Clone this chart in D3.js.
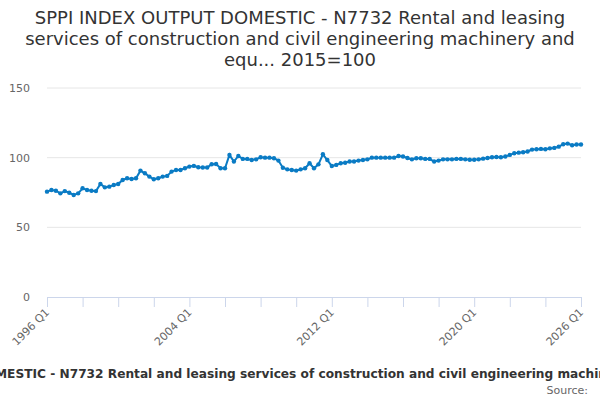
<!DOCTYPE html>
<html>
<head>
<meta charset="utf-8">
<script src="https://cdn.jsdelivr.net/npm/d3@7"></script>
<style>
  html, body { margin: 0; padding: 0; background: #fff; }
  svg { display: block; font-family: "DejaVu Sans", sans-serif; }
</style>
</head>
<body>
<div id="chart"></div>
<script>
// Quarterly index values, 1996 Q1 onwards
const startYear = 1996;
const values = [
  75.6, 76.8, 76.3, 74.4, 76.0, 74.8, 73.2, 74.4, 78.0, 76.8,
  76.3, 76.0, 81.1, 78.7, 79.2, 80.4, 81.1, 84.0, 85.2, 84.7,
  85.2, 90.7, 88.8, 86.4, 84.5, 85.2, 86.4, 86.9, 90.0, 91.2,
  91.2, 92.4, 93.6, 94.1, 93.1, 92.9, 92.9, 95.3, 95.5, 92.4,
  92.4, 102.0, 97.2, 101.2, 99.1, 99.1, 98.3, 98.8, 100.3, 100.0,
  100.0, 99.6, 97.9, 92.8, 91.6, 91.2, 90.7, 91.6, 92.4, 96.0,
  92.4, 95.2, 102.4, 98.3, 94.0, 94.8, 96.0, 96.4, 97.2, 97.2,
  97.9, 98.3, 98.8, 100.0, 100.0, 100.0, 100.0, 100.0, 100.0, 101.2,
  100.8, 99.8, 98.8, 99.6, 99.6, 99.1, 99.1, 97.2, 97.9, 98.8,
  98.8, 98.8, 99.1, 99.1, 98.8, 98.5, 98.5, 98.8, 99.3, 99.8,
  100.3, 100.5, 100.3, 100.8, 102.0, 103.2, 103.6, 103.9, 104.4, 105.8,
  106.0, 106.3, 106.0, 106.7, 107.0, 107.9, 109.6, 110.1, 108.9, 109.4,
  109.4
];
const yTicks = [0, 50, 100, 150];
const xTickYears = d3.range(1996, 2027, 2);
const xLabelYears = [1996, 2004, 2012, 2020, 2026];
const titleLines = [
  "SPPI INDEX OUTPUT DOMESTIC - N7732 Rental and leasing",
  "services of construction and civil engineering machinery and",
  "equ... 2015=100"
];
const footerText = "SPPI INDEX OUTPUT DOMESTIC - N7732 Rental and leasing services of construction and civil engineering machinery and equ... 2015=100";

const width = 600, height = 400;
const margin = { top: 88, right: 19, bottom: 103, left: 47 };

const data = values.map((v, i) => ({ t: startYear + i / 4, v: v }));

const svg = d3.select("#chart").append("svg")
  .attr("width", width)
  .attr("height", height);

const x = d3.scaleLinear()
  .domain([1996, 2026])
  .range([margin.left, width - margin.right]);

const y = d3.scaleLinear()
  .domain([0, 150])
  .range([height - margin.bottom, margin.top]);

// Title
svg.append("text")
  .attr("text-anchor", "middle")
  .attr("fill", "#333333")
  .style("font-size", "18px")
  .selectAll("tspan")
  .data(titleLines)
  .enter().append("tspan")
  .attr("x", width / 2)
  .attr("y", (d, i) => 24 + i * 21)
  .text(d => d);

// Gridlines
svg.append("g")
  .selectAll("line")
  .data(yTicks.filter(d => d > 0))
  .enter().append("line")
  .attr("x1", margin.left)
  .attr("x2", width - margin.right)
  .attr("y1", d => y(d))
  .attr("y2", d => y(d))
  .attr("stroke", "#e6e6e6")
  .attr("stroke-width", 1);

// Y axis labels
svg.append("g")
  .selectAll("text")
  .data(yTicks)
  .enter().append("text")
  .attr("x", 30)
  .attr("y", d => y(d) + 4)
  .attr("text-anchor", "end")
  .attr("fill", "#666666")
  .style("font-size", "11px")
  .text(d => d);

// X axis
const xAxis = d3.axisBottom(x)
  .tickValues(xTickYears)
  .tickSize(10)
  .tickFormat("");

const xg = svg.append("g")
  .attr("transform", `translate(0,${y(0)})`)
  .call(xAxis);
xg.select(".domain").attr("stroke", "#ccd6eb");
xg.selectAll(".tick line").attr("stroke", "#ccd6eb");

svg.append("g")
  .selectAll("text")
  .data(xLabelYears)
  .enter().append("text")
  .attr("transform", d => `translate(${x(d) + 3},${y(0) + 16}) rotate(-45)`)
  .attr("text-anchor", "end")
  .attr("fill", "#666666")
  .style("font-size", "11px")
  .text(d => d + " Q1");

// Line
const line = d3.line()
  .x(d => x(d.t))
  .y(d => y(d.v));

svg.append("path")
  .datum(data)
  .attr("d", line)
  .attr("fill", "none")
  .attr("stroke", "#0a7bc4")
  .attr("stroke-width", 2);

svg.append("g")
  .selectAll("circle")
  .data(data)
  .enter().append("circle")
  .attr("cx", d => x(d.t))
  .attr("cy", d => y(d.v))
  .attr("r", 2.2)
  .attr("fill", "#0a7bc4");

// Footer: long caption that overflows the frame, "MESTIC" starting at the left edge
const footer = svg.append("text")
  .attr("y", 378)
  .attr("fill", "#333333")
  .style("font-size", "12px")
  .style("font-weight", "bold")
  .text(footerText);

const probe = svg.append("text")
  .style("font-size", "12px")
  .style("font-weight", "bold")
  .text("MESTIC - N7732 Rental and leasing services of construction and civil engineering mach");
const fs = 12 * 600 / probe.node().getComputedTextLength();
probe.text("SPPI INDEX OUTPUT DO").style("font-size", fs + "px");
const prefixW = probe.node().getComputedTextLength();
probe.remove();
footer.style("font-size", fs + "px").attr("x", -prefixW - 5);

svg.append("text")
  .attr("x", 588)
  .attr("y", 394)
  .attr("text-anchor", "end")
  .attr("fill", "#666666")
  .style("font-size", "11px")
  .text("Source:");
</script>
</body>
</html>
